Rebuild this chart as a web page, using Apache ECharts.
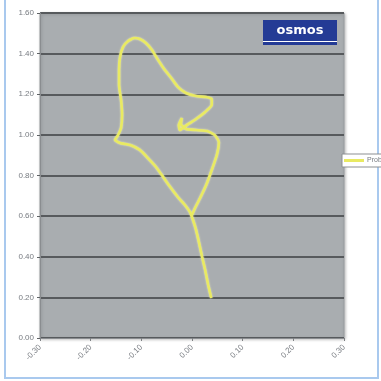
<!DOCTYPE html>
<html>
<head>
<meta charset="utf-8">
<script src="https://cdn.jsdelivr.net/npm/echarts@6/dist/echarts.min.js"></script>
<style>
  html, body { margin: 0; padding: 0; background: #ffffff; }
  #chart { width: 381px; height: 381px; }
</style>
</head>
<body>
<div id="chart"></div>
<script>
// Probe trace: horizontal displacement (x) vs vertical reading (y)
const traceX = [0.038, 0.032, 0.026, 0.020, 0.014, 0.008, 0.002, -0.004, -0.014, -0.028,
  -0.043, -0.057, -0.071, -0.087, -0.103, -0.122, -0.142, -0.152, -0.146, -0.140,
  -0.138, -0.140, -0.144, -0.144, -0.142, -0.136, -0.126, -0.114, -0.103, -0.091,
  -0.079, -0.067, -0.055, -0.041, -0.028, -0.012, 0.008, 0.028, 0.039, 0.039,
  0.026, 0.008, -0.010, -0.024, -0.026, -0.020, -0.022, -0.012, 0.008, 0.030,
  0.045, 0.053, 0.049, 0.039, 0.028, 0.016, 0.006, 0.000];
const traceY = [0.197, 0.261, 0.335, 0.399, 0.468, 0.532, 0.581, 0.620, 0.655, 0.694,
  0.743, 0.793, 0.842, 0.886, 0.926, 0.950, 0.960, 0.975, 0.999, 1.034,
  1.098, 1.172, 1.246, 1.319, 1.383, 1.433, 1.462, 1.477, 1.472, 1.452,
  1.418, 1.369, 1.324, 1.280, 1.236, 1.206, 1.191, 1.186, 1.177, 1.147,
  1.113, 1.078, 1.049, 1.024, 1.049, 1.083, 1.054, 1.029, 1.024, 1.019,
  0.999, 0.965, 0.901, 0.827, 0.753, 0.689, 0.640, 0.606];
const seriesName = 'Probe';
const logoText = 'osmos';

const points = traceX.map((x, i) => [x, traceY[i]]);

const chart = echarts.init(document.getElementById('chart'), null, { renderer: 'canvas' });

const labelStyle = {
  color: '#777b80',
  fontFamily: 'Liberation Sans, Arial, sans-serif',
  fontSize: 8
};

chart.setOption({
  backgroundColor: '#ffffff',
  animation: false,
  grid: {
    left: 40, right: 37, top: 13, bottom: 43,
    show: true,
    backgroundColor: '#a9adb0',
    borderColor: '#9a9ea1',
    borderWidth: 1,
    shadowColor: 'rgba(0,0,0,0.25)',
    shadowBlur: 3,
    shadowOffsetX: 1,
    shadowOffsetY: 1
  },
  legend: {
    show: true,
    left: 342,
    top: 154,
    orient: 'vertical',
    itemWidth: 20,
    itemHeight: 3,
    itemGap: 0,
    padding: [3, 6, 3, 2],
    borderColor: '#8c8f92',
    borderWidth: 1,
    backgroundColor: '#ffffff',
    textStyle: Object.assign({}, labelStyle, { fontSize: 7, padding: [0, 0, 0, -2] }),
    data: [{ name: seriesName, icon: 'rect' }]
  },
  xAxis: {
    type: 'value',
    min: -0.3,
    max: 0.3,
    interval: 0.1,
    axisLine: { show: true, onZero: false, lineStyle: { color: '#8a8d90', width: 1 } },
    axisTick: { show: true, length: 3, lineStyle: { color: '#7d8083' } },
    splitLine: { show: false },
    axisLabel: Object.assign({}, labelStyle, {
      rotate: 45,
      margin: 8,
      formatter: v => v.toFixed(2)
    })
  },
  yAxis: {
    type: 'value',
    min: 0,
    max: 1.6,
    interval: 0.2,
    axisLine: { show: true, onZero: false, lineStyle: { color: '#8a8d90', width: 1 } },
    axisTick: { show: true, length: 3, lineStyle: { color: '#5f6265' } },
    splitLine: { show: true, lineStyle: { color: '#575a5d', width: 2 } },
    axisLabel: Object.assign({}, labelStyle, {
      margin: 6,
      formatter: v => v.toFixed(2)
    })
  },
  series: [{
    name: seriesName,
    type: 'line',
    data: points,
    showSymbol: false,
    smooth: 0.15,
    color: '#e9ea62',
    lineStyle: {
      color: '#e9ea62',
      width: 2.6,
      shadowColor: 'rgba(250,250,190,0.8)',
      shadowBlur: 2
    },
    z: 3
  }],
  graphic: [
    // light blue frame around the chart
    {
      type: 'polyline',
      shape: { points: [[5, 0], [5, 378], [378, 378], [378, 0]] },
      style: { stroke: '#a9c9ee', lineWidth: 2, fill: null },
      silent: true
    },
    // logo badge
    {
      type: 'group',
      left: 263,
      top: 20,
      children: [
        { type: 'rect', shape: { x: 0, y: 0, width: 74, height: 25 }, style: { fill: '#243b95' } },
        { type: 'rect', shape: { x: 0, y: 21, width: 74, height: 1 }, style: { fill: '#ffffff' } },
        {
          type: 'text',
          style: {
            x: 37, y: 11, text: logoText, fill: '#ffffff',
            font: 'bold 13px "DejaVu Sans", Arial, sans-serif',
            align: 'center', verticalAlign: 'middle'
          }
        }
      ]
    }
  ]
});
</script>
</body>
</html>
